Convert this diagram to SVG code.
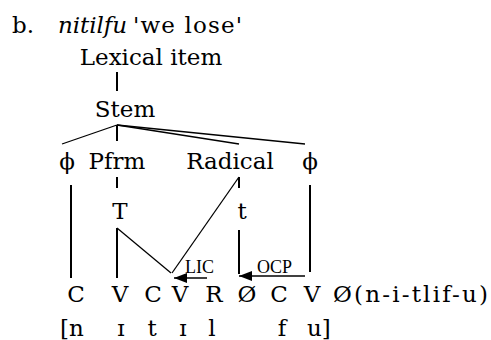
<svg xmlns="http://www.w3.org/2000/svg" width="491" height="340" viewBox="0 0 491 340">
<style>
text{font-family:"DejaVu Serif","Liberation Serif",serif;font-size:23px;fill:#000}
.m{text-anchor:middle}
.s{font-family:"Liberation Serif",serif;font-size:18px}
.l{stroke:#000;stroke-width:2;fill:none}
.t{stroke:#000;stroke-width:1.3;fill:none}
</style>
<defs>
<marker id="ah" markerWidth="14" markerHeight="10" refX="13" refY="5" orient="auto" markerUnits="userSpaceOnUse">
<path d="M13,5 L0,0 L0,10 Z" fill="#000"/>
</marker>
</defs>
<g id="title"><text x="12" y="33">b.<tspan x="58" font-style="italic" textLength="69" lengthAdjust="spacing">nitilfu</tspan><tspan x="133" textLength="109" lengthAdjust="spacing">'we lose'</tspan></text></g>
<g id="lexical"><text class="m" x="151" y="65">Lexical item</text></g>
<g id="stem"><text class="m" x="125" y="117">Stem</text></g>
<g id="phi1"><text class="m" x="67" y="169">ϕ</text></g>
<g id="pfrm"><text class="m" x="117" y="169">Pfrm</text></g>
<g id="radical"><text class="m" x="230" y="169">Radical</text></g>
<g id="phi2"><text class="m" x="310" y="169">ϕ</text></g>
<g id="T"><text class="m" x="120" y="219">T</text></g>
<g id="t"><text class="m" x="242" y="219">t</text></g>
<g id="skeleton">
<text class="m" x="76" y="302">C</text>
<text class="m" x="120" y="302">V</text>
<text class="m" x="153" y="302">C</text>
<text class="m" x="180" y="302">V</text>
<text class="m" x="214" y="302">R</text>
<text class="m" x="247" y="302">Ø</text>
<text class="m" x="279" y="302">C</text>
<text class="m" x="312" y="302">V</text>
<text x="333" y="302" textLength="155" lengthAdjust="spacing">Ø(n-i-tlif-u)</text>
</g>
<g id="surface">
<text x="60" y="336">[n</text>
<text class="m" x="121" y="336">ɪ</text>
<text class="m" x="152" y="336">t</text>
<text class="m" x="183" y="336">ɪ</text>
<text class="m" x="212" y="336">l</text>
<text class="m" x="282" y="336">f</text>
<text x="307" y="336">u]</text>
</g>
<g id="labels">
<text class="s" x="185" y="273">LIC</text>
<text class="s" x="257" y="273">OCP</text>
</g>
<g id="connectors">
<line class="l" x1="117" y1="72" x2="117" y2="91"/>
<line class="t" x1="117" y1="125" x2="62" y2="144"/>
<line class="l" x1="117" y1="125" x2="117" y2="141"/>
<line class="t" x1="117" y1="125" x2="239" y2="144"/>
<line class="t" x1="117" y1="125" x2="305" y2="144"/>
<line class="l" x1="71" y1="185" x2="71" y2="278"/>
<line class="l" x1="117" y1="177" x2="117" y2="188"/>
<line class="l" x1="117" y1="228" x2="117" y2="278"/>
<line class="t" x1="117" y1="228" x2="171" y2="273"/>
<line class="l" x1="239" y1="177" x2="239" y2="188"/>
<line class="t" x1="239" y1="177" x2="172" y2="273"/>
<line class="l" x1="239" y1="230" x2="239" y2="274"/>
<line class="l" x1="310" y1="185" x2="310" y2="272"/>
<line class="t" x1="207" y1="278" x2="174" y2="278" marker-end="url(#ah)"/>
<line class="t" x1="305" y1="276" x2="239" y2="276" marker-end="url(#ah)"/>
</g>
</svg>
